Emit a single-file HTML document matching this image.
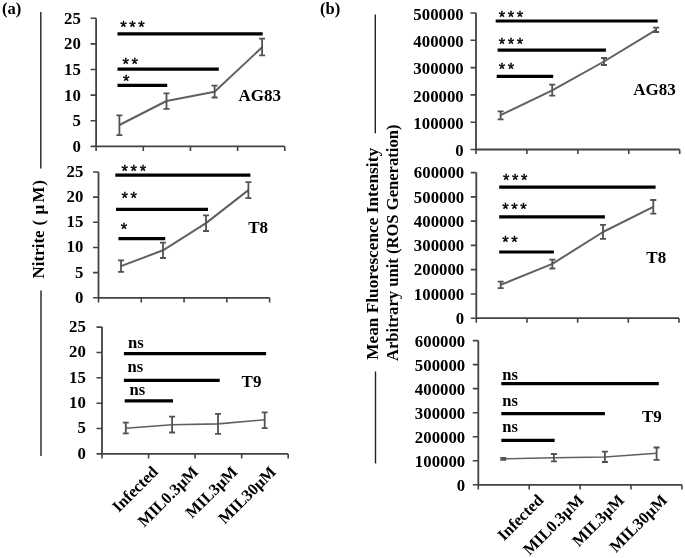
<!DOCTYPE html>
<html><head><meta charset="utf-8"><title>Figure</title>
<style>
html,body{margin:0;padding:0;background:#fff;}
svg{display:block;will-change:transform}
text{font-family:"Liberation Serif","DejaVu Serif",serif;font-weight:bold;fill:#000}
.tk{font-size:16.8px}
.nm{font-size:17px}
.ns{font-size:16.6px}
.st{font-family:"Liberation Sans","DejaVu Sans",sans-serif;font-size:16.5px;font-weight:normal;letter-spacing:2.6px;stroke:#000;stroke-width:0.4px}
.pl{font-size:16.6px}
.yt{font-size:17px}
.xl{font-size:16.3px}
</style></head><body>
<svg width="685" height="558" viewBox="0 0 685 558">
<rect width="685" height="558" fill="#fff"/>
<path d="M96.1,18.2 V146.4 H284.8" fill="none" stroke="#424242" stroke-width="1.8"/>
<text x="80.8" y="151.90" text-anchor="end" class="tk">0</text>
<text x="80.8" y="126.26" text-anchor="end" class="tk">5</text>
<text x="80.8" y="100.62" text-anchor="end" class="tk">10</text>
<text x="80.8" y="74.98" text-anchor="end" class="tk">15</text>
<text x="80.8" y="49.34" text-anchor="end" class="tk">20</text>
<text x="80.8" y="23.70" text-anchor="end" class="tk">25</text>
<path d="M90.6,146.40H96.1M90.6,120.76H96.1M90.6,95.12H96.1M90.6,69.48H96.1M90.6,43.84H96.1M90.6,18.20H96.1M96.10,146.4v4.6M143.28,146.4v4.6M190.45,146.4v4.6M237.62,146.4v4.6M284.80,146.4v4.6" fill="none" stroke="#424242" stroke-width="1.6"/>
<polyline points="119.4,125.0 166.5,101.0 214.6,91.7 262.1,47.3" fill="none" stroke="#606060" stroke-width="2.0" stroke-linejoin="round"/>
<path d="M119.4,115.3V135.2M116.4,115.3h6M116.4,135.2h6M166.5,93.3V108.8M163.5,93.3h6M163.5,108.8h6M214.6,85.6V97.5M211.6,85.6h6M211.6,97.5h6M262.1,38.7V55.3M259.1,38.7h6M259.1,55.3h6" fill="none" stroke="#525252" stroke-width="1.8"/>
<line x1="117.5" x2="262.7" y1="33.8" y2="33.8" stroke="#000" stroke-width="3.2"/>
<text x="120.2" y="33.3" class="st">***</text>
<line x1="117.5" x2="218.8" y1="69.1" y2="69.1" stroke="#000" stroke-width="3.2"/>
<text x="122.4" y="70.1" class="st">**</text>
<line x1="117.5" x2="167.2" y1="85.3" y2="85.3" stroke="#000" stroke-width="3.2"/>
<text x="123.0" y="86.7" class="st">*</text>
<text x="238.5" y="101.0" class="nm">AG83</text>
<path d="M98.5,172.0 V297.8 H269.6" fill="none" stroke="#424242" stroke-width="1.8"/>
<text x="83.3" y="302.80" text-anchor="end" class="tk">0</text>
<text x="83.3" y="277.64" text-anchor="end" class="tk">5</text>
<text x="83.3" y="252.48" text-anchor="end" class="tk">10</text>
<text x="83.3" y="227.32" text-anchor="end" class="tk">15</text>
<text x="83.3" y="202.16" text-anchor="end" class="tk">20</text>
<text x="83.3" y="177.00" text-anchor="end" class="tk">25</text>
<path d="M93.0,297.80H98.5M93.0,272.64H98.5M93.0,247.48H98.5M93.0,222.32H98.5M93.0,197.16H98.5M93.0,172.00H98.5M98.50,297.8v4.6M141.28,297.8v4.6M184.05,297.8v4.6M226.83,297.8v4.6M269.60,297.8v4.6" fill="none" stroke="#424242" stroke-width="1.6"/>
<polyline points="121.0,266.1 163.0,250.3 206.0,223.1 248.4,190.1" fill="none" stroke="#606060" stroke-width="2.0" stroke-linejoin="round"/>
<path d="M121.0,260.4V271.8M118.0,260.4h6M118.0,271.8h6M163.0,242.6V258.0M160.0,242.6h6M160.0,258.0h6M206.0,215.4V231.0M203.0,215.4h6M203.0,231.0h6M248.4,182.1V198.2M245.4,182.1h6M245.4,198.2h6" fill="none" stroke="#525252" stroke-width="1.8"/>
<line x1="115.3" x2="250.4" y1="175.2" y2="175.2" stroke="#000" stroke-width="3.2"/>
<text x="121.6" y="176.6" class="st">***</text>
<line x1="116" x2="208" y1="209.3" y2="209.3" stroke="#000" stroke-width="3.2"/>
<text x="121.6" y="203.7" class="st">**</text>
<line x1="118.4" x2="165.2" y1="238.6" y2="238.6" stroke="#000" stroke-width="3.2"/>
<text x="120.8" y="235.2" class="st">*</text>
<text x="248.2" y="233.4" class="nm">T8</text>
<path d="M102.0,327.1 V453.9 H288.2" fill="none" stroke="#424242" stroke-width="1.8"/>
<text x="85.8" y="458.70" text-anchor="end" class="tk">0</text>
<text x="85.8" y="433.34" text-anchor="end" class="tk">5</text>
<text x="85.8" y="407.98" text-anchor="end" class="tk">10</text>
<text x="85.8" y="382.62" text-anchor="end" class="tk">15</text>
<text x="85.8" y="357.26" text-anchor="end" class="tk">20</text>
<text x="85.8" y="331.90" text-anchor="end" class="tk">25</text>
<path d="M96.5,453.90H102.0M96.5,428.54H102.0M96.5,403.18H102.0M96.5,377.82H102.0M96.5,352.46H102.0M96.5,327.10H102.0M102.00,453.9v4.6M148.55,453.9v4.6M195.10,453.9v4.6M241.65,453.9v4.6M288.20,453.9v4.6" fill="none" stroke="#424242" stroke-width="1.6"/>
<polyline points="125.8,428.2 172.1,424.7 218.0,423.9 264.7,419.8" fill="none" stroke="#606060" stroke-width="1.6" stroke-linejoin="round"/>
<path d="M125.8,422.7V433.3M122.8,422.7h6M122.8,433.3h6M172.1,416.7V432.5M169.1,416.7h6M169.1,432.5h6M218.0,413.8V433.9M215.0,413.8h6M215.0,433.9h6M264.7,412.4V428.2M261.7,412.4h6M261.7,428.2h6" fill="none" stroke="#525252" stroke-width="1.8"/>
<line x1="123.9" x2="266.1" y1="353.6" y2="353.6" stroke="#000" stroke-width="3.2"/>
<text x="128" y="347.5" class="ns">ns</text>
<line x1="123.9" x2="219.7" y1="380.3" y2="380.3" stroke="#000" stroke-width="3.2"/>
<text x="127.5" y="371.8" class="ns">ns</text>
<line x1="124.7" x2="173" y1="400.9" y2="400.9" stroke="#000" stroke-width="3.2"/>
<text x="129.5" y="394.8" class="ns">ns</text>
<text x="241.6" y="387.4" class="nm">T9</text>
<path d="M476.0,13.0 V149.5 H679.7" fill="none" stroke="#424242" stroke-width="1.8"/>
<text x="463.7" y="156.10" text-anchor="end" class="tk">0</text>
<text x="463.7" y="128.80" text-anchor="end" class="tk">100000</text>
<text x="463.7" y="101.50" text-anchor="end" class="tk">200000</text>
<text x="463.7" y="74.20" text-anchor="end" class="tk">300000</text>
<text x="463.7" y="46.90" text-anchor="end" class="tk">400000</text>
<text x="463.7" y="19.60" text-anchor="end" class="tk">500000</text>
<path d="M470.5,149.50H476.0M470.5,122.20H476.0M470.5,94.90H476.0M470.5,67.60H476.0M470.5,40.30H476.0M470.5,13.00H476.0M476.00,149.5v4.6M526.92,149.5v4.6M577.85,149.5v4.6M628.78,149.5v4.6M679.70,149.5v4.6" fill="none" stroke="#424242" stroke-width="1.6"/>
<polyline points="500.6,115.2 552.2,90.4 604.0,61.5 656.1,29.8" fill="none" stroke="#606060" stroke-width="2.0" stroke-linejoin="round"/>
<path d="M500.6,111.4V119.3M497.6,111.4h6M497.6,119.3h6M552.2,84.7V95.7M549.2,84.7h6M549.2,95.7h6M604.0,58.0V65.0M601.0,58.0h6M601.0,65.0h6M656.1,27.6V32.0M653.1,27.6h6M653.1,32.0h6" fill="none" stroke="#525252" stroke-width="1.8"/>
<line x1="495.7" x2="657.7" y1="21" y2="21" stroke="#000" stroke-width="3.2"/>
<text x="498.7" y="23.2" class="st">***</text>
<line x1="497.6" x2="605.9" y1="50.2" y2="50.2" stroke="#000" stroke-width="3.2"/>
<text x="498.7" y="50.2" class="st">***</text>
<line x1="496.7" x2="553.2" y1="76.3" y2="76.3" stroke="#000" stroke-width="3.2"/>
<text x="498.7" y="74.7" class="st">**</text>
<text x="633.2" y="95.1" class="nm">AG83</text>
<path d="M476.3,172.6 V318.2 H679.0" fill="none" stroke="#424242" stroke-width="1.8"/>
<text x="464.2" y="324.00" text-anchor="end" class="tk">0</text>
<text x="464.2" y="299.73" text-anchor="end" class="tk">100000</text>
<text x="464.2" y="275.47" text-anchor="end" class="tk">200000</text>
<text x="464.2" y="251.20" text-anchor="end" class="tk">300000</text>
<text x="464.2" y="226.93" text-anchor="end" class="tk">400000</text>
<text x="464.2" y="202.67" text-anchor="end" class="tk">500000</text>
<text x="464.2" y="178.40" text-anchor="end" class="tk">600000</text>
<path d="M470.8,318.20H476.3M470.8,293.93H476.3M470.8,269.67H476.3M470.8,245.40H476.3M470.8,221.13H476.3M470.8,196.87H476.3M470.8,172.60H476.3M476.30,318.2v4.6M526.98,318.2v4.6M577.65,318.2v4.6M628.33,318.2v4.6M679.00,318.2v4.6" fill="none" stroke="#424242" stroke-width="1.6"/>
<polyline points="500.7,284.9 552.3,263.9 603.0,232.0 653.3,206.8" fill="none" stroke="#606060" stroke-width="2.0" stroke-linejoin="round"/>
<path d="M500.7,281.7V288.2M497.7,281.7h6M497.7,288.2h6M552.3,259.7V268.5M549.3,259.7h6M549.3,268.5h6M603.0,224.9V238.8M600.0,224.9h6M600.0,238.8h6M653.3,200.0V213.6M650.3,200.0h6M650.3,213.6h6" fill="none" stroke="#525252" stroke-width="1.8"/>
<line x1="499.2" x2="655.6" y1="187.1" y2="187.1" stroke="#000" stroke-width="3.2"/>
<text x="503.0" y="185.9" class="st">***</text>
<line x1="499.2" x2="604.9" y1="216.8" y2="216.8" stroke="#000" stroke-width="3.2"/>
<text x="502.2" y="214.9" class="st">***</text>
<line x1="499.2" x2="553.9" y1="252" y2="252" stroke="#000" stroke-width="3.2"/>
<text x="502.2" y="247.5" class="st">**</text>
<text x="646.3" y="262.8" class="nm">T8</text>
<path d="M478.3,340.6 V484.8 H681.9" fill="none" stroke="#424242" stroke-width="1.8"/>
<text x="465.2" y="491.20" text-anchor="end" class="tk">0</text>
<text x="465.2" y="467.17" text-anchor="end" class="tk">100000</text>
<text x="465.2" y="443.13" text-anchor="end" class="tk">200000</text>
<text x="465.2" y="419.10" text-anchor="end" class="tk">300000</text>
<text x="465.2" y="395.07" text-anchor="end" class="tk">400000</text>
<text x="465.2" y="371.03" text-anchor="end" class="tk">500000</text>
<text x="465.2" y="347.00" text-anchor="end" class="tk">600000</text>
<path d="M472.8,484.80H478.3M472.8,460.77H478.3M472.8,436.73H478.3M472.8,412.70H478.3M472.8,388.67H478.3M472.8,364.63H478.3M472.8,340.60H478.3M478.30,484.8v4.6M529.20,484.8v4.6M580.10,484.8v4.6M631.00,484.8v4.6M681.90,484.8v4.6" fill="none" stroke="#424242" stroke-width="1.6"/>
<polyline points="503.2,458.8 553.9,457.8 604.9,456.9 656.6,453.3" fill="none" stroke="#606060" stroke-width="1.5" stroke-linejoin="round"/>
<path d="M503.2,457.8V459.8M500.2,457.8h6M500.2,459.8h6M553.9,454.0V461.4M550.9,454.0h6M550.9,461.4h6M604.9,451.7V462.0M601.9,451.7h6M601.9,462.0h6M656.6,447.5V459.8M653.6,447.5h6M653.6,459.8h6" fill="none" stroke="#525252" stroke-width="1.8"/>
<line x1="501.3" x2="658.8" y1="383.6" y2="383.6" stroke="#000" stroke-width="3.2"/>
<text x="502.3" y="379.9" class="ns">ns</text>
<line x1="501.3" x2="604.9" y1="413.6" y2="413.6" stroke="#000" stroke-width="3.2"/>
<text x="502.3" y="406.2" class="ns">ns</text>
<line x1="501.3" x2="554.6" y1="440.4" y2="440.4" stroke="#000" stroke-width="3.2"/>
<text x="502.3" y="432.2" class="ns">ns</text>
<text x="641.9" y="421.8" class="nm">T9</text>
<text x="2" y="13.6" class="pl">(a)</text>
<text x="320" y="14" class="pl">(b)</text>
<path d="M40.8,12V168.4M41.0,290.5V456" stroke="#222" stroke-width="1.4" fill="none"/>
<path d="M375.3,14.6V133.3M375.5,371.6V463.5" stroke="#222" stroke-width="1.4" fill="none"/>
<text transform="translate(43.9,278.5) rotate(-90)" class="yt" style="font-size:17px">Nitrite<tspan dx="4.9">(</tspan><tspan dx="5.2">µ</tspan><tspan dx="2.4">M</tspan><tspan dx="0.6">)</tspan></text>
<text transform="translate(377.6,359.8) rotate(-90)" class="yt" style="font-size:17.3px">Mean Fluorescence Intensity</text>
<text transform="translate(397.6,361.0) rotate(-90)" class="yt" style="font-size:16.6px">Arbitrary unit (ROS Generation)</text>
<text transform="translate(159,472.8) rotate(-45)" text-anchor="end" class="xl">Infected</text>
<text transform="translate(199.2,472.8) rotate(-45)" text-anchor="end" class="xl">MIL0.3µM</text>
<text transform="translate(238.4,472.8) rotate(-45)" text-anchor="end" class="xl">MIL3µM</text>
<text transform="translate(276.9,472.8) rotate(-45)" text-anchor="end" class="xl">MIL30µM</text>
<text transform="translate(544.3,501.2) rotate(-45)" text-anchor="end" class="xl">Infected</text>
<text transform="translate(584.5,501.2) rotate(-45)" text-anchor="end" class="xl">MIL0.3µM</text>
<text transform="translate(625,501.2) rotate(-45)" text-anchor="end" class="xl">MIL3µM</text>
<text transform="translate(668,501.2) rotate(-45)" text-anchor="end" class="xl">MIL30µM</text>
</svg>
</body></html>
